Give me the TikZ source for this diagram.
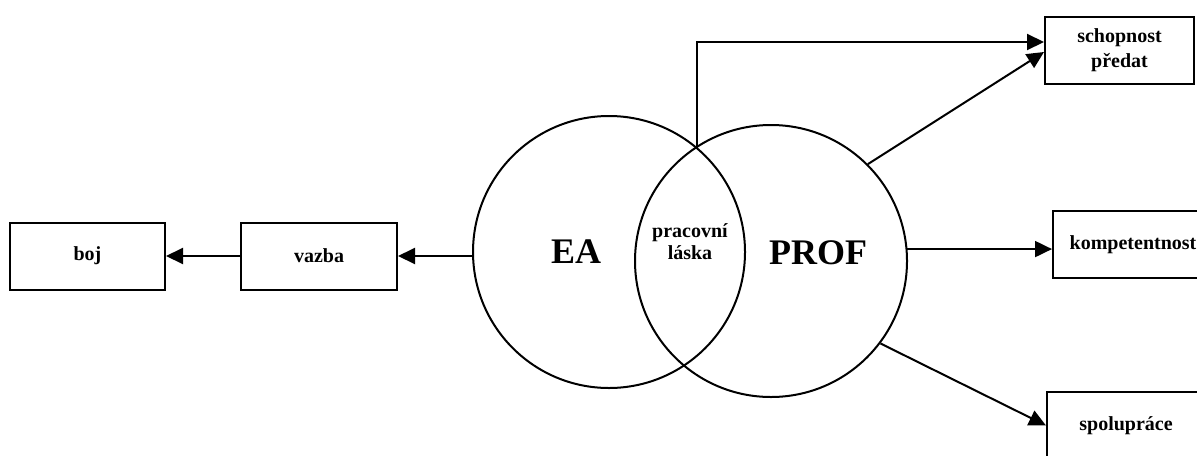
\documentclass[tikz,border=0pt]{standalone}
\usepackage{fontspec}
\setmainfont{Liberation Serif}
\usetikzlibrary{positioning, arrows.meta}

\begin{document}
\begin{tikzpicture}[x=0.5pt, y=-0.5pt,
  box/.style = {draw, line width=1pt, minimum height=33.5pt, align=center,
    font=\bfseries\fontsize{10}{12.5}\selectfont},
  ring/.style = {draw, circle, line width=1pt, minimum size=136pt, inner sep=0pt},
  big/.style = {font=\bfseries\fontsize{18}{20}\selectfont},
  edge/.style = {-{Triangle[length=8.5pt, width=8pt]}, line width=1pt},
  node distance = 0.1cm and 37pt]

  \useasboundingbox (0,0) rectangle (1197,455);
  \clip (0,0) rectangle (1197,455);

  \node[ring] (ea) at (609,252) {};
  \node[ring] (prof) at (771,261) {};
  \node[big] (ealabel) at (576,252) {EA};
  \node[big] (proflabel) at (818,253) {PROF};
  \node[align=center, inner sep=0pt, font=\bfseries\fontsize{10}{11}\selectfont]
    (love) at (690,242) {pracovní\\láska};
  \coordinate (cross) at (697,147.5);

  \node[box, minimum width=78pt] (vazba) at (319,256) {vazba};
  \node[box, minimum width=77.5pt, left = of vazba] (boj) {boj};

  \node[box, minimum width=74.5pt] (schop) at (1119.5,50.5) {schopnost\\předat};
  \node[box, minimum width=80pt] (komp) at (1133,244.5) {kompetentnost};
  \node[box, minimum width=79pt] (spol) at (1126,425.5) {spolupráce};

  \draw[edge] (ea.west |- vazba.east) -- (vazba.east);
  \draw[edge] (vazba) -- (boj);
  \draw[edge] (cross) |- ([yshift=4.25pt]schop.west);
  \draw[edge] (prof.45) -- ([yshift=-0.75pt]schop.west);
  \draw[edge] (prof.5) -- (prof.5 -| komp.west);
  \draw[edge] (prof.-37) -- (spol.west);
\end{tikzpicture}
\end{document}
